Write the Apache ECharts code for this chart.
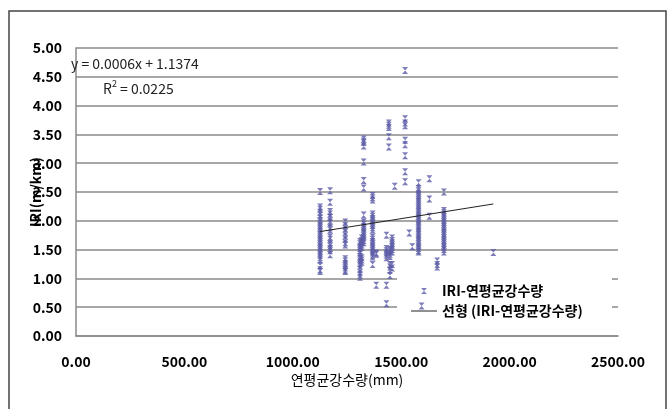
<!DOCTYPE html>
<html><head><meta charset="utf-8">
<script src="https://cdn.jsdelivr.net/npm/echarts@6/dist/echarts.min.js"></script>
<style>html,body{margin:0;padding:0;background:#fff}#c{width:668px;height:409px}</style>
</head><body><div id="c"></div>
<script>
// Annual mean precipitation (mm) of each vertical group of points
const columnX = [1126, 1172, 1242, 1310, 1318, 1327, 1368, 1385, 1432, 1443, 1448, 1458, 1470, 1518, 1537, 1551, 1580, 1594, 1630, 1666, 1697, 1925];
// IRI (m/km) values at each precipitation value
const columnY = [
  [2.51, 2.24, 2.20, 2.15, 2.10, 2.05, 2.00, 1.96, 1.92, 1.88, 1.84, 1.80, 1.76, 1.72, 1.68, 1.64, 1.60, 1.56, 1.52, 1.48, 1.44, 1.40, 1.36, 1.32, 1.22, 1.15, 1.12],
  [2.52, 2.32, 2.16, 2.12, 2.06, 2.00, 1.96, 1.88, 1.84, 1.72, 1.68, 1.60, 1.56, 1.52, 1.48, 1.41],
  [1.98, 1.92, 1.86, 1.80, 1.74, 1.68, 1.62, 1.58, 1.34, 1.30, 1.26, 1.22, 1.18, 1.14, 1.12],
  [1.64, 1.60, 1.56, 1.52, 1.48, 1.44, 1.38, 1.34, 1.30, 1.26, 1.22, 1.16, 1.10, 1.06, 1.02],
  [1.70, 1.66, 1.62, 1.58, 1.54, 1.36, 1.32, 1.28],
  [3.42, 3.38, 3.36, 3.30, 3.02, 2.70, 2.57, 2.10, 1.98, 1.94, 1.90, 1.86, 1.82, 1.78, 1.74, 1.70, 1.66, 1.62],
  [2.44, 2.40, 2.36, 2.12, 2.08, 2.04, 2.00, 1.96, 1.92, 1.88, 1.84, 1.72, 1.68, 1.64, 1.60, 1.56, 1.52, 1.48, 1.44, 1.40, 1.37, 1.24],
  [1.44, 1.42, 0.88],
  [1.75, 1.52, 1.48, 1.44, 1.40, 1.36, 0.88, 0.56],
  [3.70, 3.66, 3.62, 3.46, 3.28],
  [1.50, 1.46, 1.42, 1.38, 1.24, 1.20, 1.14, 1.05],
  [1.70, 1.66, 1.62, 1.58, 1.54, 1.50, 1.46, 1.24, 1.18],
  [2.60],
  [4.61, 3.77, 3.70, 3.65, 3.40, 3.32, 3.13, 2.85, 2.68],
  [1.79],
  [1.55],
  [2.66, 2.56, 2.52, 2.48, 2.44, 2.40, 2.36, 2.32, 2.28, 2.24, 2.20, 2.16, 2.12, 2.08, 2.04, 2.00, 1.96, 1.92, 1.88, 1.84, 1.80, 1.76, 1.72, 1.68, 1.64, 1.60, 1.56, 1.52, 1.48, 1.46],
  [0.52],
  [2.73, 2.38, 2.08],
  [1.30, 1.24, 1.20],
  [2.50, 2.18, 2.14, 2.10, 2.06, 2.02, 1.98, 1.94, 1.90, 1.86, 1.82, 1.78, 1.74, 1.70, 1.66, 1.62, 1.58, 1.54, 1.50, 1.46],
  [1.45]
];
const trendSlope = 0.0006;
const trendIntercept = 1.1374;
const trendR2 = 0.0225;
const seriesNames = ['IRI-연평균강수량', '선형 (IRI-연평균강수량)'];
const xAxisTitle = '연평균강수량(mm)';
const yAxisTitle = 'IRI(m/km)';

const scatterData = [];
columnX.forEach((x, i) => columnY[i].forEach(y => scatterData.push([x, y])));
const xs = scatterData.map(p => p[0]);
const xMin = Math.min(...xs), xMax = Math.max(...xs);
const trendData = [[xMin, trendSlope * xMin + trendIntercept], [xMax, trendSlope * xMax + trendIntercept]];

const FONT = '"Noto Sans CJK KR", "Noto Sans", sans-serif';
const marker = 'path://M0,0L10,0L0,10L10,10Z';
const lineIcon = 'path://M0,0L26,0L26,1L0,1Z';
const chart = echarts.init(document.getElementById('c'), null, {renderer: 'canvas'});
chart.setOption({
  animation: false,
  backgroundColor: '#fff',
  textStyle: {fontFamily: FONT},
  grid: {left: 76, right: 50, top: 48, bottom: 73, containLabel: false},
  xAxis: {
    type: 'value', min: 0, max: 2500, interval: 500,
    name: xAxisTitle, nameLocation: 'middle', nameGap: 37, nameMoveOverlap: false,
    nameTextStyle: {fontFamily: FONT, fontSize: 14, color: '#000'},
    axisLine: {show: true, lineStyle: {color: '#8a8a8a', width: 1.5}},
    axisTick: {show: false},
    splitLine: {show: false},
    axisLabel: {margin: 19, fontFamily: FONT, fontSize: 14, fontWeight: 'bold', color: '#000',
      formatter: v => v.toFixed(2)}
  },
  yAxis: {
    type: 'value', min: 0, max: 5, interval: 0.5,
    name: yAxisTitle, nameLocation: 'middle', nameGap: 33, nameMoveOverlap: false,
    nameTextStyle: {fontFamily: FONT, fontSize: 14, fontWeight: 'bold', color: '#000'},
    axisLine: {show: true, lineStyle: {color: '#8a8a8a', width: 1.5}},
    axisTick: {show: false},
    splitLine: {show: true, lineStyle: {color: '#8a8a8a', width: 1.5}},
    axisLabel: {margin: 14, fontFamily: FONT, fontSize: 14, fontWeight: 'bold', color: '#000',
      formatter: v => v.toFixed(2)}
  },
  legend: {
    orient: 'vertical', left: 406, top: 279,
    itemWidth: 26, itemHeight: 6, itemGap: 6,
    textStyle: {fontFamily: FONT, fontSize: 14, fontWeight: 'bold', color: '#000'},
    data: [
      {name: seriesNames[0], icon: marker},
      {name: seriesNames[1], icon: lineIcon, itemStyle: {color: '#222'}}
    ]
  },
  graphic: [
    {type: 'rect', z: 1, shape: {x: 397, y: 262, width: 215, height: 62}, style: {fill: '#fff'}},
    {type: 'rect', z: 5, shape: {x: 9, y: 11, width: 657, height: 420}, style: {fill: 'none', stroke: '#444', lineWidth: 1.5}},
    {type: 'text', z: 5, left: 71, top: 57, style: {text: 'y = 0.0006x + 1.1374', font: '14px ' + FONT, fill: '#222'}},
    {type: 'text', z: 5, left: 103, top: 79, style: {
      text: 'R{sup|2} = ' + trendR2.toFixed(4), font: '14px ' + FONT, fill: '#222',
      rich: {sup: {fontSize: 9, verticalAlign: 'top', padding: [0, 0, 10, 0], fontFamily: FONT, fill: '#222'}}
    }}
  ],
  series: [
    {
      name: seriesNames[0], type: 'scatter', data: scatterData,
      symbol: marker, symbolSize: [6, 7],
      itemStyle: {color: '#5c5ca8'}, z: 3
    },
    {
      name: seriesNames[1], type: 'line', data: trendData,
      symbol: 'none', showSymbol: false,
      itemStyle: {color: '#222'},
      lineStyle: {color: '#222', width: 1}, z: 4
    }
  ]
});
</script></body></html>
